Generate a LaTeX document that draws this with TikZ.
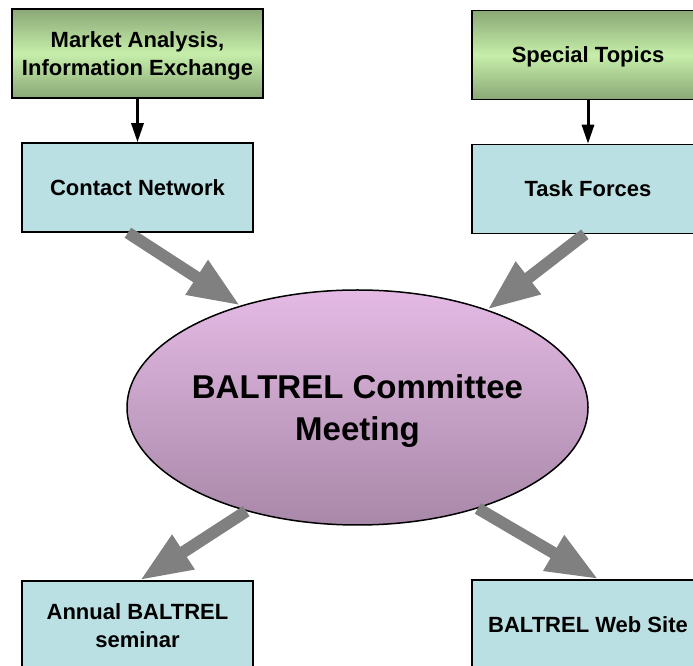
\documentclass[tikz,border=0pt]{standalone}
\usepackage{fontspec}
\setmainfont{Liberation Sans}
\usepackage{tikz}
\usetikzlibrary{arrows.meta,shapes.geometric}

\definecolor{leafdark}{RGB}{138,168,118}
\definecolor{leaflight}{RGB}{198,238,170}
\definecolor{iceblue}{RGB}{187,224,227}
\definecolor{mauvetop}{RGB}{228,186,228}
\definecolor{mauvebot}{RGB}{168,136,168}
\definecolor{arrowgray}{RGB}{128,128,128}

\begin{document}
\begin{tikzpicture}[x=1pt,y=1pt,
    boxtext/.style={font=\bfseries\fontsize{22}{28}\selectfont, align=center, text depth=0pt},
    greenbox/.style={boxtext, draw=black, line width=1.5pt, inner sep=0pt,
      minimum height=89pt, top color=leafdark, bottom color=leafdark, middle color=leaflight},
    bluebox/.style={boxtext, draw=black, line width=1.5pt, inner sep=0pt,
      minimum height=89pt, fill=iceblue},
    bigarrow/.style={draw=arrowgray, line width=12pt,
      -{Triangle[length=52pt,width=38pt]}},
    smallarrow/.style={draw=black, line width=3pt,
      -{Triangle[length=19pt,width=12pt]}}]
  \useasboundingbox (0,0) rectangle (693,666);
  \node [greenbox, minimum width=251pt] (market) at (137.5,612.5) {Market Analysis,\\Information Exchange};
  \node [greenbox, minimum width=232pt] (special) at (588,611) {Special Topics};
  \node [bluebox, minimum width=231pt] (contact) at (137.5,478.5) {Contact Network};
  \node [bluebox, minimum width=232pt] (task) at (588,477) {Task Forces};
  \node [bluebox, minimum width=231pt] (annual) at (137.5,40.5) {Annual BALTREL\\seminar};
  \node [bluebox, minimum width=232pt] (web) at (588,41.5) {BALTREL Web Site};
  \node [ellipse, draw=black, line width=1.5pt, top color=mauvetop, bottom color=mauvebot,
    minimum width=461pt, minimum height=235pt, inner xsep=-40pt, inner ysep=0pt, text depth=0pt,
    font=\bfseries\fontsize{33}{42}\selectfont, align=center] (meeting) at (357.5,258.5)
    {BALTREL Committee\\Meeting};
  \draw [smallarrow] (market.south) -- (contact.north);
  \draw [smallarrow] (special.south) -- (task.north);
  \draw [bigarrow] (contact.258) -- (meeting.139);
  \draw [bigarrow] (task.266) -- (meeting.37);
  \draw [bigarrow] (meeting.223) -- (annual.87);
  \draw [bigarrow] (meeting.320) -- (web.77);
\end{tikzpicture}
\end{document}
